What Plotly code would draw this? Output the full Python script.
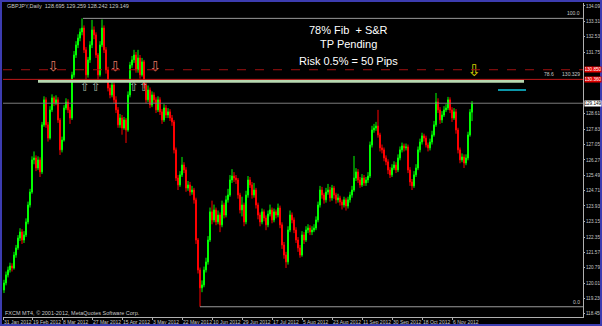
import plotly.graph_objects as go

# ---------------- data (GBPJPY daily) ----------------
first_open = 119.66
closes = [
    120.02, 120.43, 120.68, 120.88, 120.78, 121.44, 121.80, 122.30, 122.61, 122.20,
    122.46, 123.12, 123.98, 124.64, 126.27, 126.37, 125.86, 126.27, 125.66, 128.05,
    129.32, 128.05, 127.38, 128.81, 129.42, 129.16, 129.32, 128.30, 126.78, 127.28,
    128.91, 129.21, 128.81, 128.40, 130.59, 131.60, 132.11, 132.46, 132.77, 132.97,
    131.86, 130.59, 131.35, 132.11, 132.87, 132.62, 131.60, 130.59, 132.11, 132.97,
    131.86, 130.84, 129.92, 129.57, 130.08, 129.32, 128.81, 128.05, 128.40, 127.89,
    128.30, 127.79, 129.57, 131.09, 131.35, 131.60, 130.84, 131.45, 130.59, 131.25,
    130.08, 129.32, 129.82, 129.06, 129.57, 129.32, 128.81, 129.32, 128.71, 128.30,
    128.91, 128.55, 128.71, 128.40, 128.20, 126.78, 125.35, 125.00, 125.51, 126.01,
    125.76, 124.84, 125.00, 124.64, 124.74, 124.24, 122.20, 120.68, 119.77, 119.92,
    120.68, 121.09, 122.20, 123.63, 123.22, 123.73, 123.12, 123.47, 122.97, 123.98,
    123.47, 124.24, 124.49, 125.25, 125.45, 125.35, 125.25, 124.49, 123.73, 123.98,
    123.12, 124.49, 125.25, 125.00, 124.49, 124.74, 123.98, 123.47, 123.12, 123.63,
    123.32, 122.97, 123.52, 123.73, 123.22, 123.63, 123.47, 123.83, 122.97, 121.95,
    121.44, 121.09, 122.71, 123.47, 123.22, 122.71, 122.20, 121.80, 121.44, 122.46,
    122.20, 122.71, 122.81, 122.61, 122.71, 122.81, 123.22, 123.98, 124.74, 124.49,
    124.24, 124.64, 124.74, 124.34, 124.84, 124.49, 124.24, 124.34, 124.13, 123.98,
    124.24, 123.93, 124.24, 124.49, 124.74, 125.35, 125.66, 125.25, 125.00, 125.35,
    125.10, 125.25, 125.45, 127.03, 127.79, 127.89, 127.99, 127.54, 126.88, 126.78,
    126.37, 126.17, 125.76, 125.51, 125.86, 126.01, 125.76, 126.37, 126.78, 126.98,
    126.88, 126.93, 125.76, 125.15, 124.95, 125.51, 125.86, 126.78, 127.18, 127.49,
    127.38, 127.03, 126.88, 127.18, 127.54, 128.05, 129.21, 128.81, 128.30, 128.55,
    128.81, 128.91, 129.32, 128.81, 128.40, 128.71, 127.79, 126.78, 126.27, 126.42,
    126.11, 126.37, 127.54, 128.695, 129.149,
]
highs = [
    120.18, 120.60, 120.85, 121.05, 121.02, 121.60, 121.95, 122.45, 122.80, 122.75,
    122.65, 123.30, 124.15, 124.80, 126.45, 126.70, 126.50, 126.45, 126.40, 128.20,
    129.50, 129.45, 128.20, 129.00, 129.60, 129.50, 129.55, 129.45, 128.40, 127.45,
    129.05, 129.40, 129.35, 128.95, 130.75, 131.80, 132.30, 132.65, 132.95, 133.46,
    133.10, 132.00, 131.50, 132.30, 133.38, 133.05, 132.75, 131.70, 132.30, 133.40,
    133.10, 132.00, 131.00, 130.10, 130.30, 130.20, 129.50, 128.95, 128.60, 128.55,
    128.45, 128.40, 129.75, 131.25, 131.55, 131.86, 131.75, 131.86, 131.60, 131.45,
    131.35, 130.20, 130.05, 129.95, 129.75, 129.70, 129.45, 129.50, 129.45, 128.85,
    129.10, 129.05, 128.90, 128.85, 128.55, 128.30, 126.90, 125.50, 125.70, 126.42,
    126.15, 125.90, 125.20, 125.15, 124.95, 124.85, 124.35, 122.30, 120.80, 120.15,
    120.85, 121.30, 122.40, 123.85, 124.20, 124.00, 123.85, 123.70, 123.60, 124.20,
    124.10, 124.45, 124.80, 125.50, 125.80, 125.65, 125.50, 125.35, 124.60, 124.40,
    124.10, 124.70, 125.45, 125.40, 125.15, 125.10, 124.85, 124.10, 123.60, 123.80,
    123.75, 123.45, 123.70, 124.00, 123.85, 123.80, 123.75, 124.05, 123.95, 123.10,
    122.10, 121.60, 122.90, 123.70, 123.60, 123.35, 122.85, 122.35, 121.95, 122.65,
    122.60, 122.90, 123.00, 122.95, 122.90, 123.00, 123.40, 124.15, 124.95, 124.90,
    124.60, 124.85, 125.05, 124.90, 125.00, 124.95, 124.60, 124.55, 124.45, 124.25,
    124.40, 124.35, 124.40, 124.65, 124.95, 126.47, 125.85, 125.80, 125.40, 125.55,
    125.50, 125.40, 125.65, 127.20, 128.00, 128.10, 128.20, 128.81, 127.65, 127.05,
    126.90, 126.50, 126.30, 125.90, 126.05, 126.20, 126.15, 126.55, 126.95, 127.15,
    127.10, 127.10, 127.05, 125.90, 125.30, 125.70, 126.05, 126.95, 127.35, 127.65,
    127.60, 127.50, 127.15, 127.35, 127.75, 128.25, 129.67, 129.40, 128.95, 128.75,
    129.00, 129.10, 129.47, 129.45, 128.95, 128.90, 128.85, 127.90, 126.90, 126.60,
    126.55, 126.55, 127.70, 128.85, 129.259,
]
lows = [
    119.51, 119.90, 120.30, 120.55, 120.60, 120.70, 121.30, 121.70, 122.15, 122.00,
    122.05, 122.35, 123.00, 123.85, 124.55, 126.05, 125.70, 125.75, 125.40, 125.55,
    127.95, 127.90, 127.20, 127.30, 128.70, 129.00, 129.05, 128.15, 126.52, 126.65,
    127.20, 128.80, 128.65, 128.10, 128.30, 130.45, 131.45, 131.95, 132.30, 132.60,
    131.70, 130.35, 130.45, 131.20, 131.95, 132.40, 131.45, 130.35, 130.50, 132.00,
    131.70, 130.65, 129.75, 129.40, 129.45, 129.15, 128.65, 127.90, 127.90, 127.55,
    127.80, 127.13, 127.70, 129.45, 130.95, 131.20, 130.70, 130.70, 130.40, 130.50,
    129.90, 129.15, 129.20, 128.90, 128.95, 129.15, 128.65, 128.70, 128.55, 128.10,
    128.20, 128.40, 128.40, 128.25, 128.00, 126.60, 125.20, 124.74, 124.90, 125.40,
    125.60, 124.65, 124.70, 124.45, 124.50, 124.05, 122.00, 120.50, 118.81, 119.55,
    119.80, 120.55, 120.95, 122.10, 123.00, 123.10, 122.95, 123.00, 122.60, 122.85,
    123.30, 123.35, 124.10, 124.40, 125.10, 125.15, 125.05, 124.30, 123.55, 123.40,
    122.90, 123.00, 124.35, 124.85, 124.30, 124.35, 123.80, 123.25, 122.90, 123.00,
    123.15, 122.70, 122.85, 123.40, 123.05, 123.10, 123.30, 123.35, 122.80, 121.75,
    121.25, 120.78, 120.95, 122.60, 123.05, 122.55, 122.05, 121.60, 121.30, 121.35,
    122.00, 122.10, 122.55, 122.45, 122.45, 122.60, 122.70, 123.10, 123.85, 124.30,
    124.05, 124.10, 124.50, 124.15, 124.20, 124.30, 124.05, 124.10, 123.95, 123.75,
    123.85, 123.70, 123.80, 124.10, 124.35, 124.65, 125.20, 125.10, 124.85, 124.90,
    124.95, 124.95, 125.10, 125.35, 126.90, 127.65, 127.75, 127.40, 126.70, 126.60,
    126.20, 126.00, 125.55, 125.35, 125.40, 125.75, 125.60, 125.65, 126.25, 126.65,
    126.70, 126.75, 125.60, 124.95, 124.74, 124.85, 125.40, 125.75, 126.65, 127.05,
    127.20, 126.90, 126.70, 126.75, 127.05, 127.45, 127.95, 128.65, 128.10, 128.15,
    128.45, 128.70, 128.80, 128.65, 128.20, 128.30, 127.60, 126.60, 126.10, 126.15,
    125.86, 126.00, 126.25, 127.45, 128.242,
]

date_labels = ["31 Jan 2012", "19 Feb 2012", "8 Mar 2012", "27 Mar 2012", "15 Apr 2012",
               "3 May 2012", "22 May 2012", "10 Jun 2012", "29 Jun 2012", "17 Jul 2012",
               "5 Aug 2012", "23 Aug 2012", "11 Sep 2012", "30 Sep 2012", "18 Oct 2012",
               "6 Nov 2012"]
date_tick_bars = [-0.5, 14, 29, 44, 59, 74, 89, 104, 119, 134, 149, 164, 179, 194, 209, 224]

# axis labels visible in the picture (the ones under the price boxes are hidden)
price_ticks = [134.090, 133.310, 132.530, 131.750, 128.610,
               127.830, 127.050, 126.270, 125.490, 124.710, 123.930, 123.150, 122.350,
               121.570, 120.790, 120.010, 119.230, 118.450]

fib_high = 133.46
fib_high_bar = 39.5
fib_low = 118.81
fib_low_bar = 98
fib_786 = 130.329
support_line = 130.26
support_bars = [17, 260]
stop_level = 130.85
entry_level = 130.36
bid = 129.149
tp_level = 129.82
tp_bars = [247, 261]

down_arrow_bars = [24.5, 55.5, 75.5]
down_arrow_prices = [130.95, 130.95, 130.95]
up_arrow_bars = [40.5, 46, 65, 70]
up_arrow_prices = [129.9, 129.9, 129.9, 129.9]
signal_bar = [235]
signal_price = [130.75]

# ---------------- figure ----------------
n = len(closes)
opens = [first_open] + closes[:-1]
bars = list(range(n))

W, H = 602, 326
ML, MR, MT, MB = 3, 19, 3, 9
PW, PH = W - ML - MR, H - MT - MB
XR = [-0.5, 289.5]
YR = [118.29, 134.24]

def px(x):
    return (x - ML) / PW

def py(y):
    return (H - MB - y) / PH

fig = go.Figure()
fig.add_trace(go.Candlestick(
    x=bars, open=opens, high=highs, low=lows, close=closes,
    increasing=dict(line=dict(color="#00ff00", width=1), fillcolor="#00ff00"),
    decreasing=dict(line=dict(color="#ff0000", width=1), fillcolor="#ff0000"),
    whiskerwidth=0, hoverinfo="skip", showlegend=False,
))

shapes = []
def hline(y, x0, x1, color, width=1, dash="solid"):
    shapes.append(dict(type="line", xref="x", yref="y", x0=x0, x1=x1, y0=y, y1=y,
                       line=dict(color=color, width=width, dash=dash), layer="above"))

hline(fib_high, fib_high_bar, XR[1], "#9a9a9a")
hline(fib_low, fib_low_bar, XR[1], "#9a9a9a")
hline(bid, XR[0], XR[1], "#7a7a7a")
hline(stop_level, XR[0], XR[1], "#a01010", 1, "dash")
hline(support_line, support_bars[0], support_bars[1], "#b8d8b0", 3)
hline(entry_level, XR[0], XR[1], "#c01818", 1)
hline(tp_level, tp_bars[0], tp_bars[1], "#10c8e0", 1.5)

# blue frame of the MT4 window
fc = "#3c3cb0"
shapes += [
    dict(type="line", xref="paper", yref="paper", x0=px(1), x1=px(1), y0=py(H), y1=py(0), line=dict(color=fc, width=2)),
    dict(type="line", xref="paper", yref="paper", x0=px(0), x1=px(W), y0=py(1), y1=py(1), line=dict(color=fc, width=2)),
    dict(type="line", xref="paper", yref="paper", x0=px(601), x1=px(601), y0=py(H), y1=py(0), line=dict(color=fc, width=2)),
    dict(type="line", xref="paper", yref="paper", x0=px(0), x1=px(W), y0=py(325), y1=py(325), line=dict(color=fc, width=2)),
]

# arrows
fig.add_trace(go.Scatter(x=down_arrow_bars, y=down_arrow_prices, mode="text", text=["⇩"] * 3,
                         textfont=dict(family="DejaVu Sans", size=14, color="#e07860"),
                         hoverinfo="skip", showlegend=False))
fig.add_trace(go.Scatter(x=up_arrow_bars, y=up_arrow_prices, mode="text", text=["⇧"] * 4,
                         textfont=dict(family="DejaVu Sans", size=12, color="#a0b4a0"),
                         hoverinfo="skip", showlegend=False))
fig.add_trace(go.Scatter(x=signal_bar, y=signal_price, mode="text", text=["⇩"],
                         textfont=dict(family="DejaVu Sans", size=16, color="#d8d000"),
                         hoverinfo="skip", showlegend=False))

small = "Liberation Sans"
ann = []
ann.append(dict(xref="paper", yref="paper", x=px(5), y=py(6), xanchor="left", yanchor="middle",
                text="GBPJPY,Daily  128.695 129.259 128.242 129.149", showarrow=False,
                font=dict(family=small, size=5.5, color="#c8c8c8")))
ann.append(dict(xref="paper", yref="paper", x=px(3), y=py(313), xanchor="left", yanchor="middle",
                text="FXCM MT4, © 2001-2012, MetaQuotes Software Corp.", showarrow=False,
                font=dict(family=small, size=5.5, color="#c8c8c8")))
for txt, yy in [("78% Fib  + S&R", 30), ("TP Pending", 44), ("Risk 0.5% = 50 Pips", 61)]:
    ann.append(dict(xref="paper", yref="paper", x=px(348), y=py(yy), xanchor="center", yanchor="middle",
                    text=txt, showarrow=False, font=dict(family="Liberation Sans", size=11, color="#ffffff")))
# fib level labels
ann.append(dict(xref="paper", yref="y", x=1 - 1 / PW, y=fib_high, xanchor="right", yanchor="bottom",
                text="100.0", showarrow=False, font=dict(family=small, size=5, color="#c8c8c8")))
ann.append(dict(xref="paper", yref="y", x=1 - 1 / PW, y=fib_low, xanchor="right", yanchor="bottom",
                text="0.0", showarrow=False, font=dict(family=small, size=5, color="#c8c8c8")))
ann.append(dict(xref="paper", yref="y", x=1 - 1 / PW, y=entry_level, xanchor="right", yanchor="bottom",
                text="78.6      %.3f" % fib_786, showarrow=False, font=dict(family=small, size=5, color="#c8c8c8")))
# price boxes on the axis
for lvl, bg, fgc in [(stop_level, "#e00000", "#ffffff"), (entry_level, "#e00000", "#ffffff"), (bid, "#ffffff", "#000000")]:
    ann.append(dict(xref="paper", yref="y", x=1 + 1 / PW, y=lvl, xanchor="left", yanchor="middle",
                    text="%.3f" % lvl, showarrow=False, bgcolor=bg, borderpad=0, width=16,
                    font=dict(family=small, size=4.6, color=fgc)))

fig.update_layout(
    width=W, height=H, margin=dict(l=ML, r=MR, t=MT, b=MB, pad=0, autoexpand=False),
    paper_bgcolor="#000000", plot_bgcolor="#000000",
    shapes=shapes, annotations=ann, showlegend=False,
    xaxis=dict(range=XR, rangeslider=dict(visible=False), showgrid=False, zeroline=False,
               showline=True, linecolor="#b0b0b0", linewidth=1, automargin=False,
               tickmode="array", tickvals=date_tick_bars, ticktext=date_labels,
               ticks="outside", ticklen=2, tickcolor="#b0b0b0", tickangle=0,
               ticklabelposition="outside right",
               tickfont=dict(family=small, size=5, color="#c8c8c8")),
    yaxis=dict(range=YR, side="right", showgrid=False, zeroline=False,
               showline=True, linecolor="#b0b0b0", linewidth=1, automargin=False,
               tickmode="array", tickvals=price_ticks, ticktext=["%.3f" % v for v in price_ticks],
               ticks="outside", ticklen=1, tickcolor="#b0b0b0",
               tickfont=dict(family=small, size=4.6, color="#c8c8c8")),
)

fig.write_html("out.html")
